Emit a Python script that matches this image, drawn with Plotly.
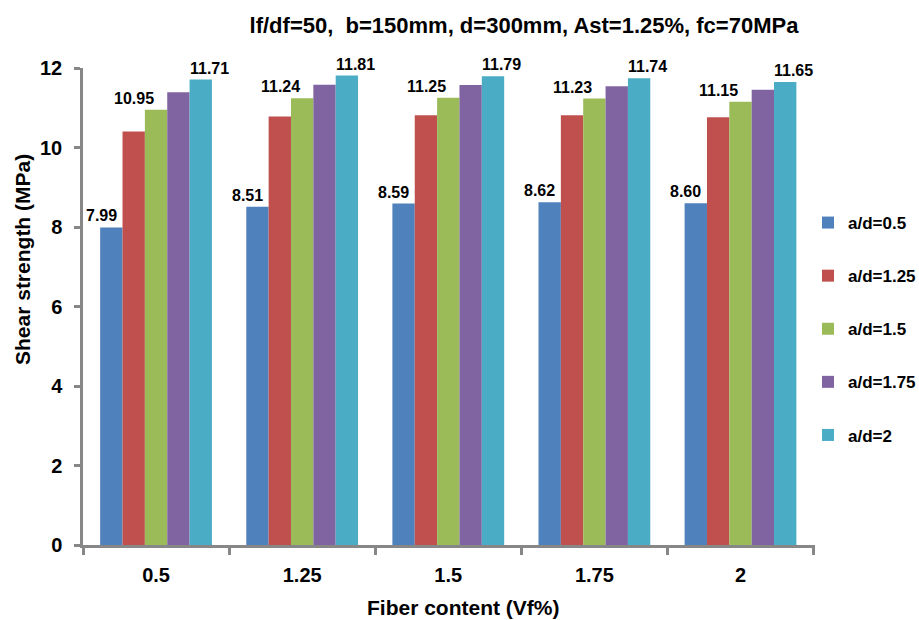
import plotly.graph_objects as go

categories = ["0.5", "1.25", "1.5", "1.75", "2"]
series_names = ["a/d=0.5", "a/d=1.25", "a/d=1.5", "a/d=1.75", "a/d=2"]
ad_05 = [7.99, 8.51, 8.59, 8.62, 8.60]
ad_125 = [10.40, 10.78, 10.81, 10.81, 10.76]
ad_15 = [10.95, 11.24, 11.25, 11.23, 11.15]
ad_175 = [11.39, 11.58, 11.57, 11.54, 11.45]
ad_2 = [11.71, 11.81, 11.79, 11.74, 11.65]
y_ticks = [0, 2, 4, 6, 8, 10, 12]

series_values = [ad_05, ad_125, ad_15, ad_175, ad_2]
colors = ["#4F81BD", "#C0504D", "#9BBB59", "#8064A2", "#4BACC6"]
labelled = {0: -55, 2: -22, 4: 53}  # series index -> label pixel shift

FONT = "Liberation Sans, Arial, sans-serif"
AX = "#878787"
BOLD = lambda size: dict(family=FONT, size=size, color="black", weight="bold")

fig = go.Figure()
for i, (name, vals) in enumerate(zip(series_names, series_values)):
    fig.add_trace(go.Bar(
        x=categories, y=vals, name=name, marker_color=colors[i],
        marker_line_width=0, legendgroup=name,
    ))

annotations = []
for i, dx in labelled.items():
    for j, v in enumerate(series_values[i]):
        annotations.append(dict(
            x=j, y=v, xref="x", yref="y", text=f"{v:.2f}",
            showarrow=False, xanchor="center", yanchor="bottom",
            xshift=dx, yshift=1, font=BOLD(16),
        ))
annotations.append(dict(
    text="Fiber content (Vf%)", xref="paper", yref="paper",
    x=(463 - 83) / 732, y=-(607 - 545) / 477, xanchor="center", yanchor="middle",
    showarrow=False, font=BOLD(21),
))
annotations.append(dict(
    text="Shear strength (MPa)", xref="paper", yref="paper",
    x=(22 - 83) / 732, y=(545 - 260) / 477, xanchor="center", yanchor="middle",
    textangle=-90, showarrow=False, font=BOLD(21),
))

fig.update_layout(
    width=919, height=620,
    margin=dict(l=83, r=104, t=68, b=75, autoexpand=False),
    paper_bgcolor="white", plot_bgcolor="white",
    barmode="group", bargap=0.235, bargroupgap=0,
    font=dict(family=FONT, color="black"),
    title=dict(text="lf/df=50,  b=150mm, d=300mm, Ast=1.25%, fc=70MPa",
               x=524 / 919, xanchor="center", y=1 - 25 / 620, yanchor="middle",
               xref="container", yref="container", font=BOLD(22)),
    showlegend=True,
    legend=dict(xref="container", yref="container", x=808 / 919, xanchor="left",
                y=1 - 205 / 620, yanchor="top", tracegroupgap=28,
                font=BOLD(17), bgcolor="rgba(0,0,0,0)", itemclick=False),
    annotations=annotations,
)
fig.update_xaxes(
    type="category", showline=True, linecolor=AX, linewidth=2.5,
    ticks="outside", tickson="boundaries", ticklen=7, tickwidth=2.5, tickcolor=AX,
    tickfont=BOLD(20), ticklabelstandoff=10,
    showgrid=False, zeroline=False,
)
fig.update_yaxes(
    range=[0, 12], tickvals=y_ticks,
    showline=True, linecolor=AX, linewidth=2.5,
    ticks="outside", ticklen=6, tickwidth=2.5, tickcolor=AX,
    tickfont=BOLD(20), ticklabelstandoff=8,
    showgrid=False, zeroline=False,
)

fig.write_html("out.html")
